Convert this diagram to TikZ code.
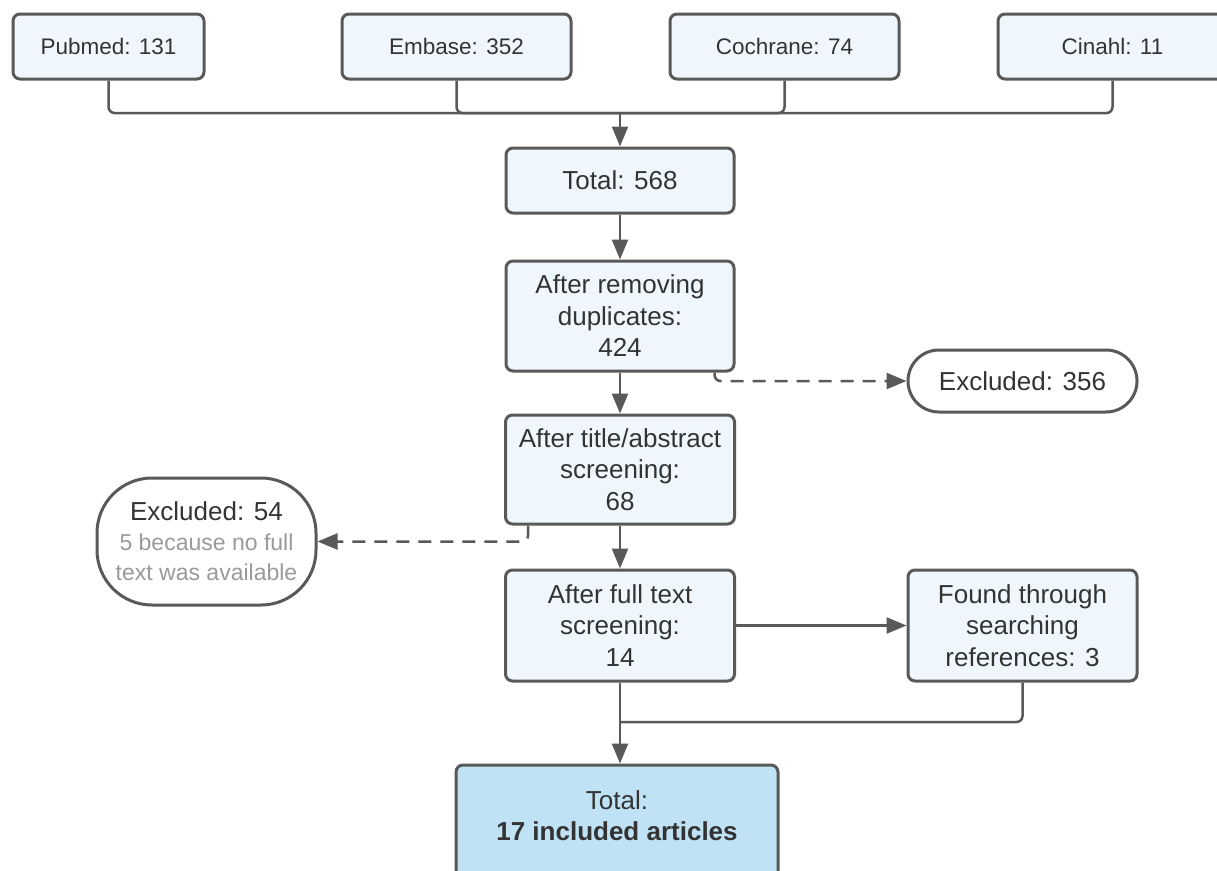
\documentclass[tikz,border=0pt]{standalone}
\usepackage{fontspec}
\setmainfont{Liberation Sans}
\usetikzlibrary{arrows.meta}
\definecolor{edge}{HTML}{595959}
\definecolor{boxfill}{HTML}{F0F7FC}
\definecolor{finfill}{HTML}{BFE3F5}
\definecolor{txt}{HTML}{333333}
\definecolor{subtxt}{HTML}{9A9A9A}
\tikzset{
  box/.style={draw=edge, line width=3pt, rounded corners=7pt, fill=boxfill,
    text=txt, align=center, inner sep=0pt, font=\fontsize{26}{31.5}\selectfont},
  topbox/.style={box, minimum width=229pt, minimum height=65pt, font=\fontsize{22.5}{30}\selectfont},
  stadium/.style={box, fill=white},
  conn/.style={draw=edge, line width=2.5pt, rounded corners=6pt},
  arr/.style={conn, -{Triangle[length=20pt,width=16pt]}},
  dasharr/.style={arr, dash pattern=on 13pt off 9pt},
}
\begin{document}
\begin{tikzpicture}[x=1pt,y=-1pt]
\useasboundingbox (0,0) rectangle (1217,870);
\node[topbox, minimum width=191pt] (pub) at (108.5,46.5) {Pubmed: 131};
\node[topbox] (emb) at (456.5,46.5) {Embase: 352};
\node[topbox] (coc) at (784.5,46.5) {Cochrane: 74};
\node[topbox] (cin) at (1112.5,46.5) {Cinahl: 11};
\coordinate (m) at (620,113);
\node[box, minimum width=228pt, minimum height=65pt] (tot) at (620,180.5) {Total: 568};
\node[box, minimum width=228pt, minimum height=110pt] (dup) at (620,316) {After removing\\duplicates:\\424};
\node[stadium, minimum width=229pt, minimum height=62pt, rounded corners=31pt] (ex1) at (1022.5,381) {Excluded: 356};
\node[box, minimum width=229pt, minimum height=109pt] (tas) at (620,469.5) {After title/abstract\\screening:\\68};
\node[stadium, minimum width=219pt, minimum height=127pt, rounded corners=55pt, font=\fontsize{26}{30}\selectfont] (ex2) at (206.5,541.5)
  {Excluded: 54\\{\color{subtxt}\fontsize{23}{30}\selectfont 5 because no full}\\{\color{subtxt}\fontsize{23}{30}\selectfont text was available}};
\node[box, minimum width=229pt, minimum height=111pt] (fts) at (620,625.5) {After full text\\screening:\\14};
\node[box, minimum width=229pt, minimum height=111pt] (fnd) at (1022.5,625.5) {Found through\\searching\\references: 3};
\coordinate (j) at (620,722);
\node[box, fill=finfill, minimum width=322pt, minimum height=142pt] (fin) at (617,836) {Total:\\\textbf{17 included articles}\\\strut};
% connectors
\draw[conn] (pub.south) |- (m);
\draw[conn] (emb.south) |- (m);
\draw[conn] (coc.south) |- (m);
\draw[conn] (cin.south) |- (m);
\draw[arr] (m) -- (tot.north);
\draw[arr] (tot.south) -- (dup.north);
\draw[arr] (dup.south) -- (tas.north);
\draw[dasharr] ([xshift=-21pt]dup.south east) |- (ex1.west);
\draw[arr] (tas.south) -- (fts.north);
\draw[dasharr] ([xshift=24pt]tas.south west) |- (ex2.east);
\draw[arr] (fts.east) -- (fnd.west);
\draw[conn] (fnd.south) |- (j);
\draw[arr] (fts.south) -- (fts.south |- fin.north);
\end{tikzpicture}
\end{document}
